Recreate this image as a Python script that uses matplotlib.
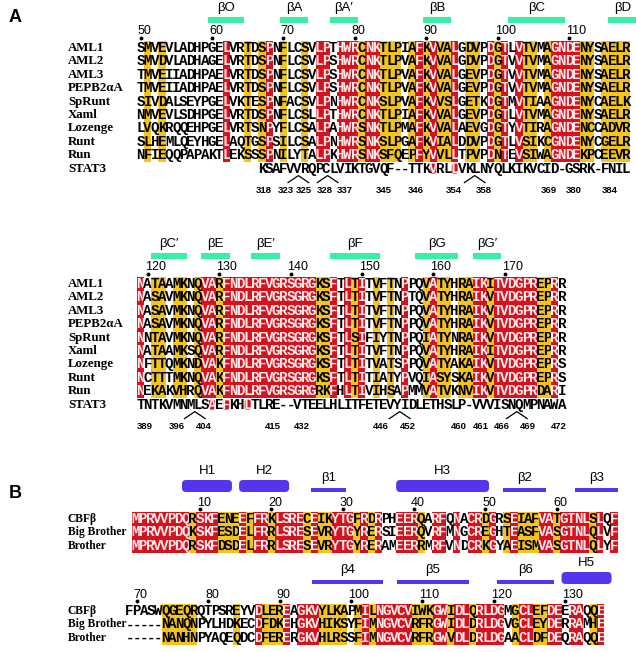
import matplotlib

matplotlib.use("Agg")
import matplotlib.pyplot as plt
from matplotlib.patches import FancyBboxPatch, Rectangle

# ---------------------------------------------------------------- data
RUNT_NAMES = ["AML1", "AML2", "AML3", "PEPB2\u03b1A", "SpRunt", "Xaml", "Lozenge", "Runt", "Run"]

RUNT_SEQ_1 = [
    "SMVEVLADHPGELVRTDSPNFLCSVLPTHWRCNKTLPIAFKVVALGDVPDGTLVTVMAGNDENYSAELR",
    "SMVDVLADHAGELVRTDSPNFLCSVLPSHWRCNKTLPVAFKVVALGDVPDGTVVTVMAGNDENYSAELR",
    "TMVEIIADHPAELVRTDSPNFLCSVLPSHWRCNKTLPVAFKVVALGEVPDGTVVTVMAGNDENYSAELR",
    "TMVEIIADHPAELVRTDSPNFLCSVLPSHWRCNKTLPVAFKVVALGEVPDGTVVTVMAGNDENYSAELR",
    "SIVDALSEYPGELVKTESPNFACSVLPNHWRCNKSLPVAFKVVSLGETKDGTMVTIAAGNDENYCAELK",
    "NMVEVLSDHPGELVRTDSPNFLCSLLPTHWRCNKTLPIAFKVVALGEVPDGTLVTVMAGNDENYSAELR",
    "LVQKRQQEHPGELVRTSNPYFLCSALPAHWRSNKTLPMAFKVVALAEVGDGTYVTIRAGNDENCCADVR",
    "SLHEMLQEYHGELAQTGSPSILCSALPNHWRSNKSLPGAFKVIALDDVPDGTLVSIKCGNDENYCGELR",
    "NFIEQQPAPAKTLEKSSSPNILYTALPKHWRSNKSFQEPFYVVLLTPVPDNTEVSIWAGNDEKPCEEVR",
]
RUNT_SHADE_1 = ".y.y........r..y.yr.y..y.rr.rrryrryyy.yryryyr.yy.ryr.ryy.yrrrryy.yyyy"
RUNT_FIRST_1 = 50
RUNT_TICKS_1 = [50, 60, 70, 80, 90, 100, 110]
RUNT_SS_1 = [("\u03b2O", 60, 64), ("\u03b2A", 70, 73), ("\u03b2A\u2032", 77, 80),
             ("\u03b2B", 90, 93), ("\u03b2C", 102, 109), ("\u03b2D", 116, 119)]
STAT3_SEQ_1 = "KSAFVVRQPCLVIKTGVQF--TTKVRLLVKLNYQLKIKVCID-GSRK-FNIL"
STAT3_START_1 = 17
STAT3_RED_1 = [24, 27]
STAT3_NUMS_1 = [318, 323, 325, 328, 337, 345, 346, 354, 358, 369, 380, 384]
STAT3_NUM_COLS_1 = [17.3, 20.3, 22.9, 25.8, 28.6, 34.1, 38.5, 43.9, 48.1, 57.2, 60.7, 65.7]
STAT3_KINKS_1 = [22.1, 26.2, 46.8]

RUNT_SEQ_2 = [
    "NATAAMKNQVARFNDLRFVGRSGRGKSFTLTITVFTNPPQVATYHRAIKITVDGPREPRR",
    "NASAVMKNQVARFNDLRFVGRSGRGKSFTLTITVFTNPTQVATYHRAIKVTVDGPREPRR",
    "NASAVMKNQVARFNDLRFVGRSGRGKSFTLTITVFTNPPQVATYHRAIKVTVDGPREPRR",
    "NASAVMKNQVARFNDLRFVGRSGRGKSFTLTITVFTNPPQVATYHRAIKVTVDGPREPRR",
    "NNTAVMKNQVARFNDLRFVGRSGRGKSFTLSIFIYTNPPQIATYNRAIKVTVDGPREPRR",
    "NATAAMKSQVARFNDLRFVGRSGRGKSFTLTITVFTNPPQVATYHRAIKITVDGPREPRR",
    "NFTTQMKNDVAKFNDLRFVGRSGRGKSFTLTITVATSPPQVATYAKAIKVTVDGPREPRS",
    "NCTTTMKNQVAKFNDLRFVGRSGRGKSFTLTITIATYPVQIASYSKAIKVTVDGPREPRS",
    "NEKAKVHRQVAKFNDLRFVGRSGRGRKFHLTIVIHSAPMMVATVKNVIKVTVDGPRDARI",
]
RUNT_SHADE_2 = "r.yy.yy.yrryrrrrrrrrrrrrryyr.ryr.y.y.r..yryy.yyrryrrrrrryyr."
RUNT_FIRST_2 = 119
RUNT_TICKS_2 = [120, 130, 140, 150, 160, 170]
RUNT_SS_2 = [("\u03b2C\u2032", 121, 125), ("\u03b2E", 128, 131), ("\u03b2E\u2032", 135, 138),
             ("\u03b2F", 146, 152), ("\u03b2G", 158, 163), ("\u03b2G\u2032", 166, 169)]
STAT3_SEQ_2 = "TNTKVMNMLSAEFKHLTLRE--VTEELHLITFETEVYIDLETHSLP-VVVISNQMPNAWA"
STAT3_START_2 = 0
STAT3_RED_2 = [10, 12, 15]
STAT3_NUMS_2 = [389, 396, 404, 415, 432, 446, 452, 460, 461, 466, 469, 472]
STAT3_NUM_COLS_2 = [0.6, 5.1, 8.8, 18.5, 22.6, 33.6, 37.4, 44.6, 47.6, 50.6, 54.2, 58.6]
STAT3_KINKS_2 = [7.6, 36.3, 52.7]

CBF_NAMES = ["CBF\u03b2", "Big Brother", "Brother"]
CBF_SEQ_1 = [
    "MPRVVPDQRSKFENEEFFRKLSRECEIKYTGFRDRPHEERQARFQNACRDGRSEIAFVATGTNLSLQF",
    "MPRVVPDQKSKFESDELFRRLSRESEVRYTGYRERSIEERQVRFMNGCREGHTEASFVASGTNLQLVF",
    "MPRVVPDQRSKFDSDELFRRLSRESEVRYTGYRERAMEERRMRFVNDCRKGYAEISMVASGTNLQLYF",
]
CBF_SHADE_1 = "rrrrrrrryrrryyyryrryrrrryryyrrryryr..rrry.rr.r.rryr.yryyyrryrrrryr.r"
CBF_FIRST_1 = 1
CBF_TICKS_1 = [10, 20, 30, 40, 50, 60]
CBF_SS_1 = [("H1", 8, 14, "helix"), ("H2", 16, 22, "helix"), ("\u03b21", 26, 30, "strand"),
            ("H3", 38, 50, "helix"), ("\u03b22", 53, 58, "strand"), ("\u03b23", 63, 68, "strand")]

CBF_SEQ_2 = [
    "FPASWQGEQRQTPSREYVDLEREAGKVYLKAPMILNGVCVIWKGWIDLQRLDGMGCLEFDEERAQQE",
    "-----NANQNPYLHDKECDFDKEHGKVHIKSYFIMNGVCVRFRGWIDLDRLDGVGCLEYDERRAMHE",
    "-----NANHNPYAQEQDCDFERERGKVHLRSSFIMNGVCVRFRGWVDLDRLDGAACLDFDEQRAQQE",
]
CBF_SHADE_2 = ".....yyyyy.....y..ryyyr.rrryyyy.yryrrrrryyyrryrryrrrr.yrryyrr.rr.yr"
CBF_FIRST_2 = 69
CBF_TICKS_2 = [70, 80, 90, 100, 110, 120, 130]
CBF_SS_2 = [("\u03b24", 95, 104, "strand"), ("\u03b25", 107, 116, "strand"),
            ("\u03b26", 121, 128, "strand"), ("H5", 130, 136, "helix")]

# ---------------------------------------------------------------- style
RED = "#d5121e"
YELLOW = "#f3c41d"
GREEN = "#37f0a2"
BLUE = "#5634ee"
RED_TEXT = "#ffeaea"
FILL = {"r": RED, "y": YELLOW}

PITCH = 7.14
ROW_H = 13.4
NAME_X = 68

SEQ_FONT = dict(family="Liberation Mono", weight="bold", fontsize=10.2)
NAME_FONT = dict(family="Liberation Serif", weight="bold", fontsize=9.3)
NUM_FONT = dict(family="Liberation Sans", fontsize=9)
SS_FONT = dict(family=["Liberation Sans", "DejaVu Sans"], fontsize=9.5)
STAT_NUM_FONT = dict(family="Liberation Sans", weight="bold", fontsize=6.8)


def shade_runs(shade):
    runs, start = [], 0
    for i in range(1, len(shade) + 1):
        if i == len(shade) or shade[i] != shade[start]:
            runs.append((start, i, shade[start]))
            start = i
    return runs


def col_x(x0, c):
    return x0 + (c + 0.5) * PITCH


def put_letter(ax, x, y, ch, color):
    ax.text(x, y + 4.0, ch, color=color, ha="center", va="baseline", zorder=4, **SEQ_FONT)


def draw_alignment(ax, x0, row0, names, seqs, shade, first_res, ticks, name_size):
    n = len(seqs)
    top = row0 - ROW_H / 2
    for a, b, cls in shade_runs(shade):
        if cls in FILL:
            ax.add_patch(Rectangle((x0 + a * PITCH, top), (b - a) * PITCH, n * ROW_H,
                                   facecolor=FILL[cls], edgecolor="none", zorder=1))
    name_font = dict(NAME_FONT, fontsize=name_size)
    for r, (name, seq) in enumerate(zip(names, seqs)):
        y = row0 + r * ROW_H
        ax.text(NAME_X, y, name, ha="left", va="center", **name_font)
        for c, ch in enumerate(seq):
            put_letter(ax, col_x(x0, c), y, ch, RED_TEXT if shade[c] == "r" else "black")
    for res in ticks:
        xc = col_x(x0, res - first_res)
        ax.text(xc - 3, row0 - 16.5, str(res), ha="left", va="center", **NUM_FONT)
        ax.plot([xc], [row0 - 10], marker="o", ms=1.8, color="black", zorder=3)


def draw_sheets(ax, x0, row0, ss, first_res):
    for label, s, e in ss:
        xa = x0 + (s - first_res) * PITCH
        xb = x0 + (e - first_res + 1) * PITCH
        ax.add_patch(Rectangle((xa, row0 - 31), xb - xa, 6, facecolor=GREEN,
                               edgecolor="none", zorder=2))
        ax.text((xa + xb) / 2, row0 - 40, label, ha="center", va="center", **SS_FONT)


def draw_cbf_ss(ax, x0, row0, ss, first_res):
    bottom = row0 - 27
    for label, s, e, kind in ss:
        xa = x0 + (s - first_res) * PITCH
        xb = x0 + (e - first_res + 1) * PITCH
        h = 12 if kind == "helix" else 4.5
        if kind == "helix":
            ax.add_patch(FancyBboxPatch((xa, bottom - h), xb - xa, h,
                                        boxstyle="round,pad=0,rounding_size=4",
                                        facecolor=BLUE, edgecolor="none", zorder=2))
        else:
            ax.add_patch(Rectangle((xa, bottom - h), xb - xa, h, facecolor=BLUE,
                                   edgecolor="none", zorder=2))
        ax.text((xa + xb) / 2, bottom - h - 9, label, ha="center", va="center", **SS_FONT)


def draw_stat3(ax, x0, y, seq, start, red, nums, num_cols, kinks):
    for i, ch in enumerate(seq):
        xc = col_x(x0, start + i)
        color = "black"
        if i in red:
            ax.add_patch(FancyBboxPatch((xc - PITCH / 2 + 0.6, y - 5), PITCH - 1.2, 10,
                                        boxstyle="round,pad=0,rounding_size=2",
                                        facecolor=RED, edgecolor="none", zorder=2))
            color = RED_TEXT
        put_letter(ax, xc, y, ch, color)
    for k in kinks:
        xs = [col_x(x0, k - 1.45), col_x(x0, k), col_x(x0, k + 1.45)]
        ax.plot(xs, [y + 14, y + 7, y + 14], color="black", lw=0.9, zorder=3)
    for num, c in zip(nums, num_cols):
        ax.text(col_x(x0, c), y + 22, str(num), ha="center", va="center", **STAT_NUM_FONT)


fig = plt.figure(figsize=(6.36, 6.52), dpi=100)
ax = fig.add_axes([0, 0, 1, 1])
ax.set_xlim(0, 636)
ax.set_ylim(652, 0)
ax.axis("off")

panel_font = dict(family="Liberation Sans", weight="bold", fontsize=13)
ax.text(9, 18, "A", ha="left", va="center", **panel_font)
ax.text(9, 494, "B", ha="left", va="center", **panel_font)

# panel A, first block
X_A = 137
ROW_A1 = 48
draw_sheets(ax, X_A, ROW_A1, RUNT_SS_1, RUNT_FIRST_1)
draw_alignment(ax, X_A, ROW_A1, RUNT_NAMES, RUNT_SEQ_1, RUNT_SHADE_1, RUNT_FIRST_1,
               RUNT_TICKS_1, 9.3)
y_stat = ROW_A1 + len(RUNT_SEQ_1) * ROW_H
ax.text(NAME_X, y_stat, "STAT3", ha="left", va="center", **NAME_FONT)
draw_stat3(ax, X_A, y_stat, STAT3_SEQ_1, STAT3_START_1, STAT3_RED_1,
           STAT3_NUMS_1, STAT3_NUM_COLS_1, STAT3_KINKS_1)

# panel A, second block
ROW_A2 = 284
draw_sheets(ax, X_A, ROW_A2, RUNT_SS_2, RUNT_FIRST_2)
draw_alignment(ax, X_A, ROW_A2, RUNT_NAMES, RUNT_SEQ_2, RUNT_SHADE_2, RUNT_FIRST_2,
               RUNT_TICKS_2, 9.3)
y_stat = ROW_A2 + len(RUNT_SEQ_2) * ROW_H
ax.text(NAME_X, y_stat, "STAT3", ha="left", va="center", **NAME_FONT)
draw_stat3(ax, X_A, y_stat, STAT3_SEQ_2, STAT3_START_2, STAT3_RED_2,
           STAT3_NUMS_2, STAT3_NUM_COLS_2, STAT3_KINKS_2)

# panel B
X_B1, ROW_B1 = 132, 519
draw_cbf_ss(ax, X_B1, ROW_B1, CBF_SS_1, CBF_FIRST_1)
draw_alignment(ax, X_B1, ROW_B1, CBF_NAMES, CBF_SEQ_1, CBF_SHADE_1, CBF_FIRST_1,
               CBF_TICKS_1, 8.3)

X_B2, ROW_B2 = 126, 611
draw_cbf_ss(ax, X_B2, ROW_B2, CBF_SS_2, CBF_FIRST_2)
draw_alignment(ax, X_B2, ROW_B2, CBF_NAMES, CBF_SEQ_2, CBF_SHADE_2, CBF_FIRST_2,
               CBF_TICKS_2, 8.3)

fig.savefig("out.png", dpi=100)
